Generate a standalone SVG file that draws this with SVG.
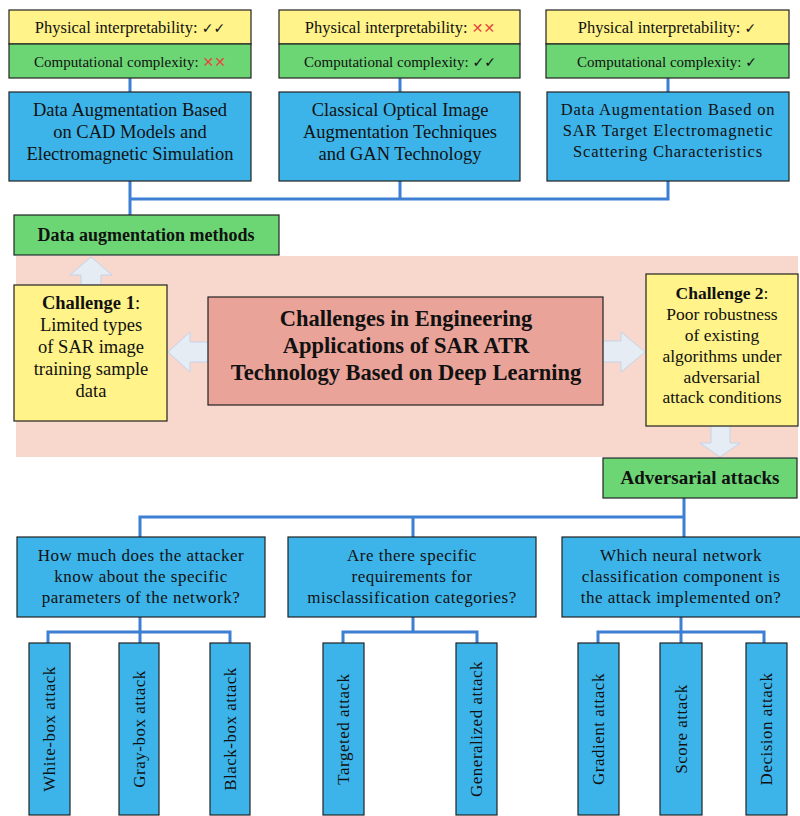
<svg xmlns="http://www.w3.org/2000/svg" width="800" height="816" viewBox="0 0 800 816">
<style>
text{font-family:"Liberation Serif","Times New Roman",serif;fill:#111;text-anchor:middle}
.yb{fill:#FFF389;stroke:#222;stroke-width:1.2}
.gb{fill:#6CD675;stroke:#222;stroke-width:1.2}
.bb{fill:#3DB4E9;stroke:#222;stroke-width:1.2}
.rb{fill:#E9A398;stroke:#222;stroke-width:1.2}
.conn{fill:none;stroke:#3C7FD3;stroke-width:3}
.arr{fill:#E6ECF3;stroke:#C4D4EA;stroke-width:1}
.sym{font-family:"DejaVu Sans",sans-serif;font-size:14px}
.x{fill:#E8453C}
.t15{font-size:16.5px}
.t14{font-size:15px}
.t17{font-size:18.5px}
.c3{font-size:16.5px;letter-spacing:0.8px}
.q{font-size:17px;letter-spacing:0.5px}
.ch1{font-size:18.5px}
.ch2{font-size:17.5px}
.bold{font-weight:bold}
.leaf{font-size:17px;letter-spacing:0.5px}
</style>
<rect x="16" y="256" width="782" height="201" fill="#F8D8CC"/>
<g id="connectors">
<path class="conn" d="M130 78V92M400 78V92M668 78V92"/>
<path class="conn" d="M130 181V199H668V181M400 181V199M130 199V215"/>
<path class="conn" d="M684 498V517H140V537M413 517V537M684 517V537"/>
<path class="conn" d="M140 617V632H48V643M140 632H230V643M140 632V643"/>
<path class="conn" d="M413 617V632H343V643M413 632H477V643"/>
<path class="conn" d="M681 617V632H598V643M681 632H764V643M681 632V643"/>
<polygon class="arr" points="91,257 112,275 101,275 101,285 81,285 81,275 70,275"/>
<polygon class="arr" points="168,352 190,332 190,342 208,342 208,362 190,362 190,372"/>
<polygon class="arr" points="645,352 621,332 621,341 603,341 603,362 621,362 621,372"/>
<polygon class="arr" points="720,457 740,443 730,443 730,426 711,426 711,443 700,443"/>
</g>
<g id="col1">
<rect class="yb" x="9" y="10" width="242" height="34"/>
<text class="t15" x="130" y="33">Physical interpretability: <tspan class="sym">✓✓</tspan></text>
<rect class="gb" x="9" y="44" width="242" height="34"/>
<text class="t14" x="130" y="67">Computational complexity: <tspan class="sym x">✕✕</tspan></text>
<rect class="bb" x="9" y="92" width="242" height="89"/>
<text class="t17" x="130" y="116">Data Augmentation Based</text>
<text class="t17" x="130" y="138">on CAD Models and</text>
<text class="t17" x="130" y="160">Electromagnetic Simulation</text>
</g>
<g id="col2">
<rect class="yb" x="279" y="10" width="241" height="34"/>
<text class="t15" x="400" y="33">Physical interpretability: <tspan class="sym x">✕✕</tspan></text>
<rect class="gb" x="279" y="44" width="241" height="34"/>
<text class="t14" x="400" y="67">Computational complexity: <tspan class="sym">✓✓</tspan></text>
<rect class="bb" x="279" y="92" width="241" height="89"/>
<text class="t17" x="400" y="116">Classical Optical Image</text>
<text class="t17" x="400" y="138">Augmentation Techniques</text>
<text class="t17" x="400" y="160">and GAN Technology</text>
</g>
<g id="col3">
<rect class="yb" x="546" y="10" width="243" height="34"/>
<text class="t15" x="667" y="33">Physical interpretability: <tspan class="sym">✓</tspan></text>
<rect class="gb" x="546" y="44" width="243" height="34"/>
<text class="t14" x="667" y="67">Computational complexity: <tspan class="sym">✓</tspan></text>
<rect class="bb" x="547" y="92" width="242" height="89"/>
<text class="c3" x="668" y="115">Data Augmentation Based on</text>
<text class="c3" x="668" y="136">SAR Target Electromagnetic</text>
<text class="c3" x="668" y="157">Scattering Characteristics</text>
</g>
<g id="data-aug">
<rect class="gb" x="14" y="215" width="265" height="40"/>
<text class="bold" x="146" y="241" style="font-size:18px">Data augmentation methods</text>
</g>
<g id="challenge1">
<rect class="yb" x="14" y="285" width="153" height="136"/>
<text class="ch1" x="91" y="309"><tspan class="bold">Challenge 1</tspan>:</text>
<text class="ch1" x="91" y="331">Limited types</text>
<text class="ch1" x="91" y="353">of SAR image</text>
<text class="ch1" x="91" y="375">training sample</text>
<text class="ch1" x="91" y="397">data</text>
</g>
<g id="center">
<rect class="rb" x="208" y="297" width="395" height="108"/>
<text class="bold" x="406" y="326" style="font-size:22.5px">Challenges in Engineering</text>
<text class="bold" x="406" y="353" style="font-size:22.5px">Applications of SAR ATR</text>
<text class="bold" x="406" y="380" style="font-size:22.5px">Technology Based on Deep Learning</text>
</g>
<g id="challenge2">
<rect class="yb" x="646" y="274" width="152" height="152"/>
<text class="ch2" x="722" y="299"><tspan class="bold">Challenge 2</tspan>:</text>
<text class="ch2" x="722" y="320">Poor robustness</text>
<text class="ch2" x="722" y="341">of existing</text>
<text class="ch2" x="722" y="362">algorithms under</text>
<text class="ch2" x="722" y="383">adversarial</text>
<text class="ch2" x="722" y="403">attack conditions</text>
</g>
<g id="adv">
<rect class="gb" x="603" y="458" width="194" height="40"/>
<text class="bold" x="700" y="484" style="font-size:19px">Adversarial attacks</text>
</g>
<g id="q1">
<rect class="bb" x="17" y="537" width="248" height="80"/>
<text class="q" x="141" y="561">How much does the attacker</text>
<text class="q" x="141" y="582">know about the specific</text>
<text class="q" x="141" y="603">parameters of the network?</text>
</g>
<g id="q2">
<rect class="bb" x="288" y="537" width="248" height="80"/>
<text class="q" x="412" y="561">Are there specific</text>
<text class="q" x="412" y="582">requirements for</text>
<text class="q" x="412" y="603">misclassification categories?</text>
</g>
<g id="q3">
<rect class="bb" x="562" y="537" width="240" height="80"/>
<text class="q" x="681" y="561">Which neural network</text>
<text class="q" x="681" y="582">classification component is</text>
<text class="q" x="681" y="603">the attack implemented on?</text>
</g>
<g id="leaf-white"><rect class="bb" x="29" y="643" width="41" height="172"/><text class="leaf" transform="translate(55,729) rotate(-90)">White-box attack</text></g>
<g id="leaf-gray"><rect class="bb" x="119" y="643" width="40" height="172"/><text class="leaf" transform="translate(145,729) rotate(-90)">Gray-box attack</text></g>
<g id="leaf-black"><rect class="bb" x="210" y="643" width="40" height="172"/><text class="leaf" transform="translate(236,729) rotate(-90)">Black-box attack</text></g>
<g id="leaf-targeted"><rect class="bb" x="323" y="643" width="41" height="172"/><text class="leaf" transform="translate(349,729) rotate(-90)">Targeted attack</text></g>
<g id="leaf-generalized"><rect class="bb" x="456" y="643" width="41" height="172"/><text class="leaf" transform="translate(482,729) rotate(-90)">Generalized attack</text></g>
<g id="leaf-gradient"><rect class="bb" x="578" y="643" width="41" height="172"/><text class="leaf" transform="translate(604,729) rotate(-90)">Gradient attack</text></g>
<g id="leaf-score"><rect class="bb" x="660" y="643" width="42" height="172"/><text class="leaf" transform="translate(687,729) rotate(-90)">Score attack</text></g>
<g id="leaf-decision"><rect class="bb" x="746" y="643" width="41" height="172"/><text class="leaf" transform="translate(772,729) rotate(-90)">Decision attack</text></g>
</svg>
